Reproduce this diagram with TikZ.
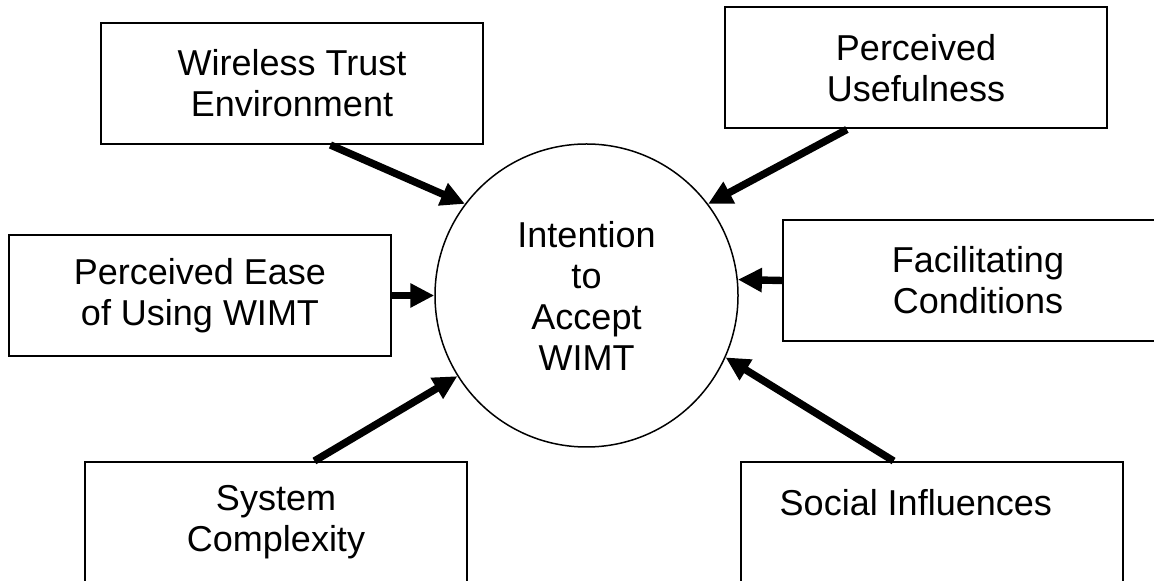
\documentclass[tikz,border=0pt]{standalone}
\usepackage{fontspec}
\setmainfont{Liberation Sans}
\usetikzlibrary{arrows.meta}
\usetikzlibrary{calc}

\begin{document}
\begin{tikzpicture}[x = 0.5pt, y = -0.5pt,
		factor/.style = {draw, line width = 1pt, minimum width = 191pt, minimum height = 60.5pt, align = center, inner sep = 0pt, font = \fontsize{18}{20.5}\selectfont, execute at begin node = {\rule{0pt}{18pt}}},
		intent/.style = {circle, draw, line width = 0.75pt, minimum size = 151.5pt, align = center, inner sep = 0pt, font = \fontsize{18}{20.5}\selectfont},
		effect/.style = {line width = 3.7pt, -{Triangle[length = 12pt, width = 11.5pt]}}]
		\clip (0, 0) rectangle (1154, 581);

		\node [intent] (iwimt) at (586.5, 295.5) {Intention\\to\\Accept\\WIMT};

		\node [factor] (wte) at (292, 83.5) {Wireless Trust\\Environment};
		\node [factor] (pu) at (916, 68) {Perceived\\Usefulness};
		\node [factor] (peu) at (200, 295.5) {Perceived Ease\\of Using WIMT};
		\node [factor, minimum width = 195pt] (fc) at (978, 280.5) {Facilitating\\Conditions};
		\node [factor] (sc) at (276, 522.5) {System\\Complexity};
		\node [factor] (si) at (932, 522.5) {Social Influences\hspace*{0.9em}\\\mbox{}};

		\draw [effect] ($(wte.south west)!0.6!(wte.south east)$) -- (iwimt.143);
		\draw [effect] ($(pu.south west)!0.32!(pu.south east)$) -- (iwimt.37);
		\draw [effect] (peu.east) -- (iwimt.west);
		\draw [effect] (fc.west) -- (iwimt.6);
		\draw [effect] ($(sc.north west)!0.6!(sc.north east)$) -- (iwimt.212);
		\draw [effect] ($(si.north west)!0.4!(si.north east)$) -- (iwimt.336);
	\end{tikzpicture}
\end{document}
